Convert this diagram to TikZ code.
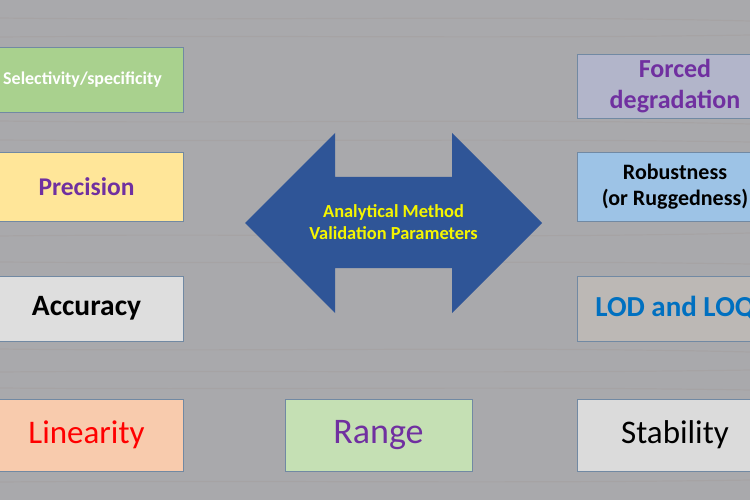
\documentclass[tikz,border=0pt]{standalone}
\usepackage{fontspec}
\setmainfont{Carlito}
\usepackage{xcolor}

\definecolor{wood}{HTML}{A9A9AC}
\definecolor{grain}{HTML}{9E958E}
\definecolor{boxline}{HTML}{7189A3}
\definecolor{arrowblue}{HTML}{2F5597}
\definecolor{txtpurple}{HTML}{7030A0}
\definecolor{txtblue}{HTML}{0070C0}
\definecolor{txtyellow}{HTML}{F5F500}

\begin{document}
\begin{tikzpicture}[x=1pt,y=-1pt,
    param/.style={draw=boxline,line width=0.8pt,inner sep=0pt,align=center},
    leftcol/.style={param,minimum width=193pt},
    rightcol/.style={param,minimum width=196pt},
    streak/.style={grain,line width=1.2pt,opacity=0.25}]
    \useasboundingbox (0,0) rectangle (750,500);
    \clip (0,0) rectangle (750,500);
    \fill[wood] (0,0) rectangle (750,500);
    % wood grain
    \foreach \yy/\dy in {18/3,37/-2,121/3,140/2,236/-3,262/2,349/3,372/-2,388/2,482/-2}
        \draw[streak] (0,\yy) .. controls (250,\yy+\dy) and (500,\yy-\dy) .. (750,\yy+\dy);
    % left column
    \node[leftcol,minimum width=201pt,minimum height=65pt,fill={rgb,255:red,169;green,209;blue,142},text=white,
          font=\bfseries\fontsize{18}{21}\selectfont] (select) at (82.5,79.5) {Selectivity/specificity};
    \node[leftcol,minimum height=69pt,fill={rgb,255:red,255;green,230;blue,153},text=txtpurple,
          font=\bfseries\fontsize{25.5}{30}\selectfont] (prec) at (86.5,186.5) {Precision};
    \node[leftcol,minimum height=65pt,fill={rgb,255:red,222;green,222;blue,222},text=black,
          font=\bfseries\fontsize{29.5}{34}\selectfont] (acc) at (86.5,308.5) {Accuracy};
    \node[leftcol,minimum height=72pt,fill={rgb,255:red,248;green,203;blue,173},text=red,
          font=\fontsize{33}{38}\selectfont] (lin) at (86.5,435) {Linearity};
    % right column
    \node[rightcol,minimum height=64pt,fill={rgb,255:red,178;green,181;blue,202},text=txtpurple,
          font=\bfseries\fontsize{26}{31}\selectfont] (forced) at (675,86) {Forced\\degradation};
    \node[rightcol,minimum height=69pt,fill={rgb,255:red,157;green,195;blue,230},text=black,
          font=\bfseries\fontsize{22}{26.5}\selectfont] (robust) at (675,186.5) {Robustness\\(or Ruggedness)};
    \node[rightcol,minimum height=65pt,fill={rgb,255:red,188;green,184;blue,181},text=txtblue,
          font=\bfseries\fontsize{29}{34}\selectfont] (lod) at (675,308.5) {LOD and LOQ};
    \node[rightcol,minimum height=72pt,fill={rgb,255:red,219;green,219;blue,219},text=black,
          font=\fontsize{33}{38}\selectfont] (stab) at (675,435) {Stability};
    % bottom middle
    \node[param,minimum width=187pt,minimum height=72pt,fill={rgb,255:red,197;green,224;blue,180},
          text=txtpurple,font=\fontsize{36}{40}\selectfont] (range) at (378.5,435) {Range};
    % central double arrow
    \fill[arrowblue] (245,223) -- (335,133) -- (335,177) -- (452,177) -- (452,133) -- (542,223)
        -- (452,313) -- (452,268) -- (335,268) -- (335,313) -- cycle;
    \node[align=center,text=txtyellow,font=\bfseries\fontsize{18.4}{22.5}\selectfont] (amvp) at (393.5,222)
        {Analytical Method\\Validation Parameters};
\end{tikzpicture}
\end{document}
